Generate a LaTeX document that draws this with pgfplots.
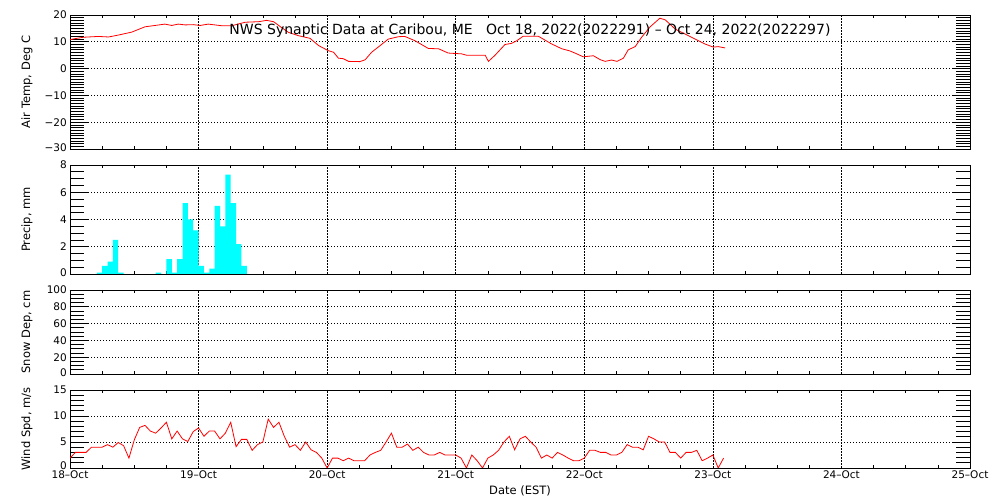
\documentclass[border=0pt]{standalone}
\usepackage{fontspec}
\setmainfont{DejaVu Sans}
\usepackage{pgfplots}
\pgfplotsset{compat=1.18}
\definecolor{aqua}{RGB}{0,255,255}
\definecolor{idlred}{RGB}{255,0,0}

\pgfplotsset{
  idl/.style={
    scale only axis, width=900pt,
    xmin=0, xmax=168,
    xtick={0,24,...,168}, minor x tick num=3,
    xticklabels={},
    axis line style={black, line width=0.9pt},
    xtick style={black, line width=0.7pt, /pgfplots/major tick length=0pt, /pgfplots/minor tick length=3pt},
    ytick style={black, line width=0.7pt, /pgfplots/major tick length=18.5pt, /pgfplots/minor tick length=14pt},
    xmajorgrids, ymajorgrids,
    major x grid style={black, line width=0.7pt, dash pattern=on 1.5pt off 1.5pt},
    major y grid style={black, line width=0.7pt, dash pattern=on 1pt off 2pt},
    tick label style={font=\fontsize{10.5}{12}\selectfont},
    yticklabel style={inner sep=1pt, xshift=-2pt},
    xticklabel style={inner sep=0.5pt, yshift=-2.5pt},
    /pgf/number format/assume math mode=true,
    every axis y label/.style={at={(axis description cs:-0.0478,0.5)}, rotate=90, anchor=center,
      font=\fontsize{11.5}{13}\selectfont},
    clip=true,
  },
}

\begin{document}
\begin{tikzpicture}[x=1pt,y=1pt]
\path[use as bounding box] (0,0) rectangle (1000,500);

% air temperature
\begin{axis}[idl, at={(70pt,351pt)}, anchor=south west, height=134pt,
  ymin=-30, ymax=20, ytick={-30,-20,...,20},
  yticklabels={\raisebox{3pt}{−30},−20,−10,0,10,20}, minor y tick num=9,
  ylabel={Air Temp, Deg C}]
\addplot[idlred, line width=0.8pt] coordinates {
(0,10.8)(1,11.2)(2.5,11.7)(5.3,12.0)(7.2,11.8)(9,12.5)(11.5,13.6)(14,15.6)
(15.9,16.1)(17.7,16.6)(19,16.1)(20.2,16.6)(21.5,16.3)(23,16.4)(24.3,16.1)
(25.8,16.6)(28.3,16.0)(30.2,16.0)(32.7,17.3)(35.2,17.5)(36.7,18.0)(38,17.5)
(39.5,15.3)(40.8,13.5)(42.6,12.3)(44.8,11.3)(46.4,8.6)(48.2,6.7)(49.2,6.1)
(50.1,3.9)(51,3.7)(52,2.7)(54.1,2.6)(55.1,3.3)(56.3,6.1)(57.9,8.6)(59.4,11.0)
(61.3,11.9)(62.5,12.0)(64.4,10.4)(66.9,7.5)(68.8,7.4)(70.6,5.8)(73.1,5.5)
(74,5.0)(77.5,5.0)(78.1,2.7)(79.3,4.9)(81.2,9.0)(82.4,9.4)(83.4,10.4)
(84.6,12.1)(87.4,12.1)(89.9,9.2)(91.8,7.4)(93.3,6.6)(94.6,5.5)(95.8,4.4)
(97.7,4.8)(99,3.3)(99.9,2.7)(101.1,3.2)(102.1,2.7)(103.3,3.9)(104.2,7.0)
(105.5,8.2)(106.7,11.7)(108.3,15.6)(110.1,18.8)(111.1,18.2)(113,14.7)
(114.8,12.9)(116.7,11.0)(118.5,9.2)(120.1,8.0)(121,8.2)(122.3,7.7)
};
\end{axis}

% precipitation
\begin{axis}[idl, at={(70pt,226pt)}, anchor=south west, height=109pt,
  ymin=0, ymax=8, ytick={0,2,...,8}, minor y tick num=3,
  yticklabels={\raisebox{3pt}{0},2,4,6,8},
  ylabel={Precip, mm}]
\addplot[ybar, bar width=1, bar shift=0, fill=aqua, draw=none] coordinates {
(5.5,0.1)(6.5,0.6)(7.5,0.9)(8.5,2.5)(9.5,0.1)(16.5,0.1)(18.5,1.1)(19.5,0.1)
(20.5,1.1)(21.5,5.2)(22.5,4.0)(23.5,3.2)(24.5,0.6)(25.5,0.1)(26.5,0.4)
(27.5,5.0)(28.5,3.5)(29.5,7.3)(30.5,5.2)(31.5,2.2)(32.5,0.6)
};
\end{axis}

% snow depth (no data)
\begin{axis}[idl, at={(70pt,126pt)}, anchor=south west, height=84pt,
  ymin=0, ymax=100, ytick={0,20,...,100}, minor y tick num=3,
  yticklabels={\raisebox{2.5pt}{0},20,40,60,80,100},
  ylabel={Snow Dep, cm}]
\end{axis}

% wind speed
\begin{axis}[idl, at={(70pt,32pt)}, anchor=south west, height=78pt,
  ymin=0, ymax=15, ytick={0,5,10,15}, minor y tick num=4,
  yticklabels={\raisebox{4pt}{0},5,10,15},
  xticklabels={18–Oct,19–Oct,20–Oct,21–Oct,22–Oct,23–Oct,24–Oct,25–Oct},
  ylabel={Wind Spd, m/s},
  xlabel={Date (EST)},
  every axis x label/.style={at={(axis description cs:0.5,0)}, yshift=-23pt, anchor=center,
    font=\fontsize{11.5}{13}\selectfont}]
\addplot[idlred, line width=0.8pt] coordinates {
(0,1.9)(1,3.0)(3,3.0)(4,4.0)(6,4.0)(7,4.5)(8,4.0)(9,4.9)(10,4.3)(11,1.9)
(12,5.4)(13,7.8)(14,8.2)(15,7.1)(16,6.7)(17,7.7)(18,8.8)(19,5.6)(20,7.1)
(21,5.6)(22,5.1)(23,7.0)(24,7.7)(25,6.1)(26,7.1)(27,7.1)(28,5.6)(29,6.7)
(30,8.8)(31,4.1)(32,5.5)(33,5.5)(34,3.4)(35,4.5)(36,5.0)(37,9.4)(38,7.8)
(39,8.8)(40,6.1)(41,4.0)(42,4.5)(43,3.4)(44,5.0)(45,3.5)(46,3.0)(47,1.9)
(48,0)(49,1.9)(50,1.9)(51,1.4)(52,1.9)(53,1.4)(55,1.4)(56,2.5)(57,3.0)
(58,3.4)(59,5.0)(60,6.7)(61,4.0)(62,4.0)(63,4.6)(64,3.4)(65,4.0)(66,3.0)
(67,2.5)(68,2.5)(69,3.0)(70,2.5)(72,2.5)(73,1.9)(74,0)(75,2.5)(76,1.4)
(77,0)(78,1.9)(79,2.5)(80,3.4)(81,5.0)(82,6.1)(83,3.5)(84,5.6)(85,6.1)
(86,5.0)(87,4.0)(88,1.9)(89,2.5)(90,1.9)(91,3.0)(92,2.5)(93,1.9)(94,1.4)
(95,1.4)(96,1.9)(97,3.4)(98,3.4)(99,3.0)(100,3.0)(101,2.5)(102,2.5)
(103,3.0)(104,4.5)(105,4.0)(106,4.0)(107,3.5)(108,6.1)(109,5.6)(110,5.0)
(111,5.0)(112,3.0)(113,3.0)(114,1.9)(115,3.0)(116,3.0)(117,3.4)(118,1.4)
(119,1.9)(120,2.5)(121,0)(122,1.9)
};
\end{axis}

\node[font=\fontsize{14}{16}\selectfont, anchor=center] at (530,469.5)
  {NWS Synaptic Data at Caribou, ME\ \ \ Oct 18, 2022(2022291) – Oct 24, 2022(2022297)};
\end{tikzpicture}
\end{document}
